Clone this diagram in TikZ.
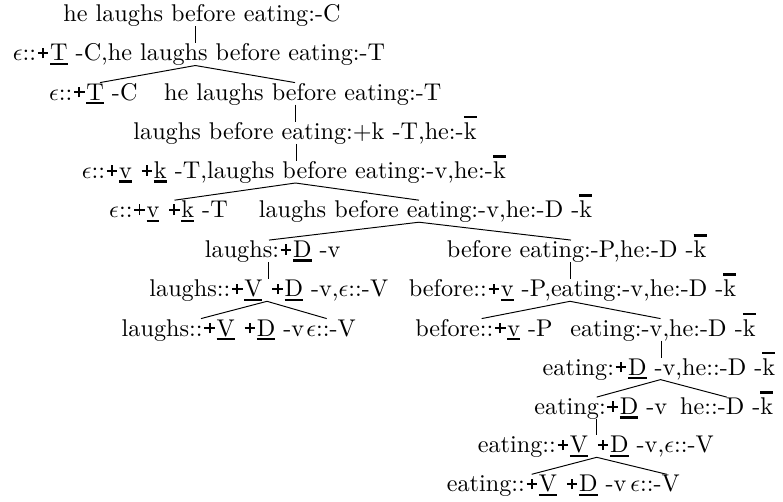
\documentclass[tikz,border=0pt]{standalone}
% feature marks
\newcommand{\uln}[1]{\setbox0\hbox{#1}\rlap{\rule[-1.8pt]{\wd0}{1pt}}#1}
\newcommand{\ovl}[1]{\setbox0\hbox{#1}\rlap{\rule[8.6pt]{\wd0}{1pt}}#1}
\newcommand{\bplus}{\kern0.7pt\rlap{\rule[2.85pt]{4.4pt}{0.8pt}}\kern1.8pt\rule[1.05pt]{0.8pt}{4.4pt}\kern1.8pt\kern0.7pt}
\newcommand{\sel}[1]{\bplus\uln{#1}}
\newcommand{\eps}{$\epsilon$}
\begin{document}
\begin{tikzpicture}[x=0.4132pt, y=-0.4132pt,
    lab/.style={inner sep=0pt, anchor=base, text height=7pt, text depth=1.7pt}]
    \useasboundingbox (0,0) rectangle (783,501);

    % Root and first merge
    \node[lab] (n1) at (202, 21.7) {he laughs before eating:-C};
    \node[lab] (n2) at (199, 60.9) {\eps::\sel{T} -C,he laughs before eating:-T};
    \node[lab] (n3a) at (93.3, 100) {\eps::\sel{T} -C};
    \node[lab] (n3b) at (302.7, 100) {he laughs before eating:-T};

    % Move k
    \node[lab] (n4) at (305, 139.2) {laughs before eating:+k -T,he:-\ovl{k}};
    \node[lab] (n5) at (293.8, 178.4) {\eps::\sel{v} \sel{k} -T,laughs before eating:-v,he:-\ovl{k}};
    \node[lab] (n6a) at (168.5, 217.6) {\eps::\sel{v} \sel{k} -T};
    \node[lab] (n6b) at (425.5, 217.6) {laughs before eating:-v,he:-D -\ovl{k}};

    % Left branch: laughs
    \node[lab] (n7a) at (272.7, 257.5) {laughs:\sel{D} -v};
    \node[lab] (n8a) at (268.8, 296.7) {laughs::\sel{V} \sel{D} -v,\eps::-V};
    \node[lab] (n9a) at (213, 336) {laughs::\sel{V} \sel{D} -v};
    \node[lab] (n9b) at (331, 336) {\eps::-V};

    % Right branch: before eating
    \node[lab] (n7b) at (576.7, 257.5) {before eating:-P,he:-D -\ovl{k}};
    \node[lab] (n8b) at (572.5, 296.7) {before::\sel{v} -P,eating:-v,he:-D -\ovl{k}};
    \node[lab] (n9c) at (484, 336) {before::\sel{v} -P};
    \node[lab] (n9d) at (663, 336) {eating:-v,he:-D -\ovl{k}};

    % eating
    \node[lab] (n10) at (659, 375) {eating:\sel{D} -v,he::-D -\ovl{k}};
    \node[lab] (n11a) at (600.8, 414.5) {eating:\sel{D} -v};
    \node[lab] (n11b) at (726.7, 414.5) {he::-D -\ovl{k}};
    \node[lab] (n12) at (595.8, 452.7) {eating::\sel{V} \sel{D} -v,\eps::-V};
    \node[lab] (n13a) at (536.7, 491.7) {eating::\sel{V} \sel{D} -v};
    \node[lab] (n13b) at (655, 491.7) {\eps::-V};

    % Branches
    \draw (n1.south -| 195.3,0) -- (n2.north -| 195.3,0);
    \draw (n3a.north -| 100,0) -- (n2.south -| 195.3,0) -- (n3b.north -| 295,0);
    \draw (n3b.south -| 295.5,0) -- (n4.north -| 295.5,0);
    \draw (n4.south -| 296,0) -- (n5.north -| 296,0);
    \draw (n6a.north -| 174.5,0) -- (n5.south -| 295.5,0) -- (n6b.north -| 419,0);
    \draw (n7a.north -| 269,0) -- (n6b.south -| 419,0) -- (n7b.north -| 571,0);
    \draw (n7a.south -| 268.3,0) -- (n8a.north -| 268.3,0);
    \draw (n7b.south -| 570.5,0) -- (n8b.north -| 570.5,0);
    \draw (n9a.north -| 201,0) -- (n8a.south -| 267,0) -- (n9b.north -| 326.7,0);
    \draw (n9c.north -| 481.7,0) -- (n8b.south -| 570,0) -- (n9d.north -| 660.5,0);
    \draw (n9d.south -| 661,0) -- (n10.north -| 661,0);
    \draw (n11a.north -| 596.7,0) -- (n10.south -| 660.5,0) -- (n11b.north -| 726.7,0);
    \draw (n11a.south -| 596.7,0) -- (n12.north -| 596.7,0);
    \draw (n13a.north -| 531.7,0) -- (n12.south -| 596.7,0) -- (n13b.north -| 666.7,0);
\end{tikzpicture}
\end{document}
